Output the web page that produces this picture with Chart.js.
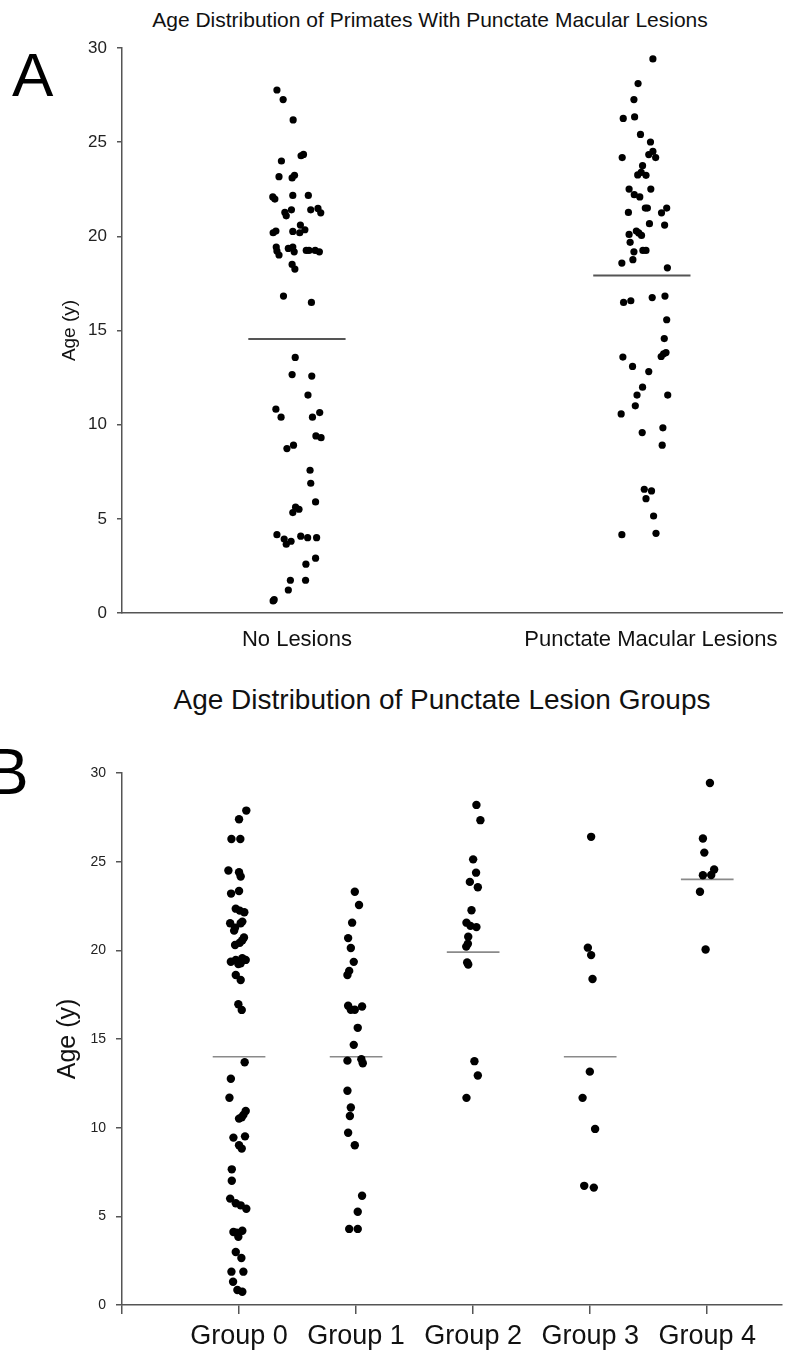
<!DOCTYPE html>
<html lang="en">
<head>
  <meta charset="UTF-8">
  <title>Age Distribution of Primates With Punctate Macular Lesions</title>
  <script src="https://cdn.jsdelivr.net/npm/chart.js"></script>
  <style>
    body { margin: 0; background: #fff; font-family: "Liberation Sans", Arial, sans-serif; }
    #page { position: relative; width: 786px; height: 1351px; overflow: hidden; }
    .panel { position: absolute; left: 0; width: 786px; }
    .letter { position: absolute; line-height: 1; color: #000; }
    .title { position: absolute; line-height: 1; color: #111; white-space: nowrap; transform: translateX(-50%); }
  </style>
</head>
<body>
<div id="page">
  <div class="letter" style="left:12px; top:44px; font-size:62px;">A</div>
  <div class="title" style="left:430px; top:9px; font-size:21px;">Age Distribution of Primates With Punctate Macular Lesions</div>
  <div class="panel" style="top:0; height:660px;"><canvas id="chartA"></canvas></div>

  <div class="letter" style="left:-14px; top:740px; font-size:64px;">B</div>
  <div class="title" style="left:442px; top:686px; font-size:28px;">Age Distribution of Punctate Lesion Groups</div>
  <div class="panel" style="top:650px; height:701px;"><canvas id="chartB"></canvas></div>
</div>

<script>
  // --- data ---
  const yTicks = [0, 5, 10, 15, 20, 25, 30];

  // panel A
  const lesionCategories = ['No Lesions', 'Punctate Macular Lesions'];
  const noLesionAges = [27.77, 27.26, 26.18, 24.28, 24.35, 24.00, 23.17, 23.10, 23.24, 22.09,
    21.98, 22.17, 22.17, 21.27, 21.09, 21.41, 21.41, 21.48, 21.25, 20.60,
    20.19, 20.28, 20.26, 20.19, 20.35, 19.43, 19.22, 19.01, 19.36, 19.43,
    19.18, 19.25, 19.25, 19.25, 19.18, 18.51, 18.26, 16.83, 16.49, 13.57,
    12.66, 12.58, 11.57, 10.82, 10.40, 10.40, 10.64, 9.40, 9.31, 8.73,
    8.91, 7.58, 6.89, 5.90, 5.62, 5.33, 5.51, 4.16, 3.93, 3.65,
    3.81, 4.08, 4.00, 4.00, 2.91, 2.59, 1.74, 1.74, 1.22, 0.71, 0.64];
  const noLesionJitter = [-0.058, -0.040, -0.011, 0.012, 0.019, -0.045, -0.052, -0.014, -0.007, -0.070,
    -0.064, -0.012, 0.033, -0.035, -0.031, -0.016, 0.040, 0.061, 0.069, 0.010,
    -0.069, -0.061, -0.012, 0.008, 0.023, -0.060, -0.058, -0.052, -0.025, -0.012,
    -0.008, 0.027, 0.035, 0.053, 0.065, -0.014, -0.006, -0.039, 0.042, -0.005,
    -0.014, 0.043, 0.032, -0.061, -0.046, 0.045, 0.066, 0.055, 0.070, -0.029,
    -0.010, 0.038, 0.040, 0.054, -0.004, -0.012, 0.006, -0.058, -0.037, -0.031,
    -0.017, 0.011, 0.031, 0.057, 0.054, 0.026, -0.019, 0.025, -0.025, -0.066, -0.069];
  const punctateAges = [29.42, 28.11, 27.26, 26.26, 26.34, 25.41, 25.01, 24.18, 24.34, 24.51,
    24.18, 23.75, 23.26, 23.40, 23.24, 22.51, 22.51, 22.21, 22.09, 21.27,
    21.50, 21.50, 21.25, 21.50, 20.67, 20.60, 20.10, 20.28, 20.18, 20.05,
    19.68, 19.18, 19.25, 19.25, 18.58, 18.76, 18.33, 16.49, 16.58, 16.75,
    16.83, 15.57, 14.57, 13.59, 13.62, 13.76, 13.83, 13.09, 12.82, 11.99,
    11.57, 11.57, 11.00, 10.57, 9.83, 9.58, 8.91, 6.57, 6.48, 6.07,
    5.15, 4.16, 4.23];
  const punctateJitter = [0.032, -0.011, -0.023, -0.054, -0.021, -0.004, 0.025, -0.057, 0.020, 0.032,
    0.040, 0.002, -0.012, -0.002, 0.012, -0.037, 0.026, -0.022, -0.006, -0.039,
    0.010, 0.016, 0.057, 0.072, 0.022, 0.066, -0.037, -0.016, -0.009, -0.001,
    -0.034, -0.023, 0.003, 0.012, -0.058, -0.026, 0.074, -0.053, -0.032, 0.030,
    0.067, 0.072, 0.065, -0.055, 0.056, 0.063, 0.070, -0.027, 0.020, 0.002,
    -0.014, 0.075, -0.019, -0.060, 0.061, 0.001, 0.059, 0.007, 0.028, 0.012,
    0.034, -0.058, 0.041];
  const lesionMedians = [14.55, 17.92];

  // panel B
  const groupLabels = ['Group 0', 'Group 1', 'Group 2', 'Group 3', 'Group 4'];
  const group0Ages = [27.88, 27.39, 26.28, 26.28, 24.50, 24.40, 24.16, 23.20, 23.35, 22.35,
    22.24, 22.15, 21.53, 21.28, 21.53, 21.62, 21.11, 20.30, 20.43, 20.72,
    20.57, 19.36, 19.46, 19.27, 19.46, 19.55, 19.23, 18.61, 18.33, 16.96,
    16.64, 13.69, 12.76, 11.69, 10.94, 10.72, 10.51, 10.59, 9.44, 9.51,
    9.01, 8.82, 7.65, 7.01, 6.00, 5.74, 5.62, 5.43, 4.12, 3.85,
    4.19, 4.08, 2.99, 2.65, 1.88, 1.88, 1.31, 0.85, 0.75];
  const group0Jitter = [0.062, 0.000, -0.065, 0.011, -0.091, 0.000, 0.014, -0.068, 0.000, -0.028,
    0.006, 0.045, -0.076, -0.034, 0.014, 0.028, -0.042, -0.034, 0.006, 0.042,
    0.028, -0.070, -0.028, 0.014, 0.057, 0.028, -0.006, -0.028, 0.014, -0.006,
    0.023, 0.048, -0.070, -0.082, 0.057, 0.037, 0.000, 0.023, -0.048, 0.051,
    0.000, 0.023, -0.062, -0.062, -0.076, -0.028, 0.014, 0.062, -0.048, -0.006,
    0.028, -0.020, -0.028, 0.020, -0.065, 0.037, -0.051, -0.014, 0.028];
  const group1Ages = [23.30, 22.56, 21.56, 20.69, 20.13, 19.35, 18.84, 18.61, 16.88, 16.65,
    16.65, 16.83, 15.63, 14.67, 13.78, 13.86, 13.63, 12.08, 11.14, 10.66,
    9.71, 9.01, 6.16, 5.26, 4.29, 4.29];
  const group1Jitter = [-0.011, 0.025, -0.034, -0.068, -0.045, -0.020, -0.059, -0.074, -0.068, -0.045,
    -0.011, 0.051, 0.014, -0.020, -0.074, 0.045, 0.057, -0.074, -0.045, -0.053,
    -0.068, -0.011, 0.051, 0.014, -0.059, 0.014];
  const group2Ages = [28.20, 27.34, 25.13, 24.38, 23.86, 23.56, 22.26, 21.56, 21.38, 21.31,
    20.77, 20.37, 20.21, 19.31, 19.20, 13.75, 12.94, 11.68];
  const group2Jitter = [0.028, 0.062, 0.000, 0.025, -0.028, 0.040, -0.014, -0.057, -0.023, 0.028,
    -0.042, -0.045, -0.059, -0.051, -0.042, 0.011, 0.040, -0.057];
  const group3Ages = [26.40, 20.15, 19.73, 18.38, 13.16, 11.68, 9.93, 6.72, 6.62];
  const group3Jitter = [0.008, -0.020, 0.008, 0.020, -0.003, -0.065, 0.042, -0.051, 0.031];
  const group4Ages = [29.44, 26.31, 25.51, 24.56, 24.25, 24.23, 23.30, 20.05];
  const group4Jitter = [0.023, -0.037, -0.025, 0.059, 0.034, -0.037, -0.062, -0.014];
  const groupMedians = [14.0, 14.0, 19.9, 14.0, 24.0];

  // --- helpers ---
  function toPoints(cat, ages, jitter) {
    return ages.map((a, i) => ({ x: cat + jitter[i], y: a }));
  }
  function medianLine(cat, value, half) {
    return [{ x: cat - half, y: value }, { x: cat + half, y: value }];
  }
  const axisColor = '#555';

  function yScale(tickSize, titleSize, titlePad, tickLen) {
    return {
      type: 'linear', min: 0, max: 30,
      afterBuildTicks: s => { s.ticks = yTicks.map(v => ({ value: v })); },
      afterFit: s => { s.width = 122; s.paddingTop = 0; s.paddingBottom = 0; },
      grid: { display: true, drawOnChartArea: false, drawTicks: true, tickLength: tickLen, color: axisColor, lineWidth: 1.5 },
      border: { display: true, color: axisColor, width: 1.5 },
      ticks: { color: '#222', font: { size: tickSize }, padding: 10 },
      title: { display: true, text: 'Age (y)', color: '#111', font: { size: titleSize }, padding: { top: titlePad, bottom: 0 } }
    };
  }

  // --- panel A ---
  const dsA = [
    { data: toPoints(1, noLesionAges, noLesionJitter) },
    { data: toPoints(2, punctateAges, punctateJitter) }
  ].map(d => Object.assign(d, { backgroundColor: '#000', borderWidth: 0, pointRadius: 3.6, clip: false }));
  lesionMedians.forEach((m, i) => {
    dsA.push({ data: medianLine(i + 1, m, 0.141), showLine: true, borderColor: '#555', borderWidth: 2.2, pointRadius: 0 });
  });

  new Chart(document.getElementById('chartA'), {
    type: 'scatter',
    data: { datasets: dsA },
    options: {
      responsive: true, maintainAspectRatio: false, animation: false,
      layout: { padding: { top: 48, right: 0, bottom: 0, left: 0 } },
      plugins: { legend: { display: false }, tooltip: { enabled: false } },
      scales: {
        x: {
          type: 'linear', min: 0.4928, max: 2.4063,
          // the second label sits a little right of its point column in the original
          afterBuildTicks: s => { s.ticks = [1, 2.026].map(v => ({ value: v })); },
          afterFit: s => { s.height = 47; s.paddingLeft = 0; s.paddingRight = 0; },
          grid: { display: true, drawOnChartArea: false, drawTicks: false },
          border: { display: true, color: axisColor, width: 1.5 },
          ticks: { autoSkip: false, maxRotation: 0, color: '#111', font: { size: 22 }, padding: 14,
                   callback: (v, i) => lesionCategories[i] }
        },
        y: yScale(17, 19, 58, 5)
      }
    }
  });

  // --- panel B ---
  const groupAges = [group0Ages, group1Ages, group2Ages, group3Ages, group4Ages];
  const groupJitter = [group0Jitter, group1Jitter, group2Jitter, group3Jitter, group4Jitter];
  const dsB = groupAges.map((ages, g) => ({
    data: toPoints(g + 1, ages, groupJitter[g]),
    backgroundColor: '#000', borderWidth: 0, pointRadius: 4.2, clip: false
  }));
  groupMedians.forEach((m, g) => {
    dsB.push({ data: medianLine(g + 1, m, 0.225), showLine: true, borderColor: '#8a8a8a', borderWidth: 1.6, pointRadius: 0 });
  });

  new Chart(document.getElementById('chartB'), {
    type: 'scatter',
    data: { datasets: dsB },
    options: {
      responsive: true, maintainAspectRatio: false, animation: false,
      layout: { padding: { top: 123, right: 0, bottom: 0, left: 0 } },
      plugins: { legend: { display: false }, tooltip: { enabled: false } },
      scales: {
        x: {
          type: 'linear', min: 0, max: 5.637,
          afterBuildTicks: s => { s.ticks = [0, 1, 2, 3, 4, 5].map(v => ({ value: v })); },
          afterFit: s => { s.height = 46; s.paddingLeft = 0; s.paddingRight = 0; },
          grid: { display: true, drawOnChartArea: false, drawTicks: true, tickLength: 9, color: axisColor, lineWidth: 1.5 },
          border: { display: true, color: axisColor, width: 1.5 },
          ticks: { autoSkip: false, maxRotation: 0, color: '#111', font: { size: 27 }, padding: 6,
                   callback: (v, i) => (i > 0 ? groupLabels[i - 1] : '') }
        },
        y: yScale(14, 25, 53, 6)
      }
    }
  });
</script>
</body>
</html>
